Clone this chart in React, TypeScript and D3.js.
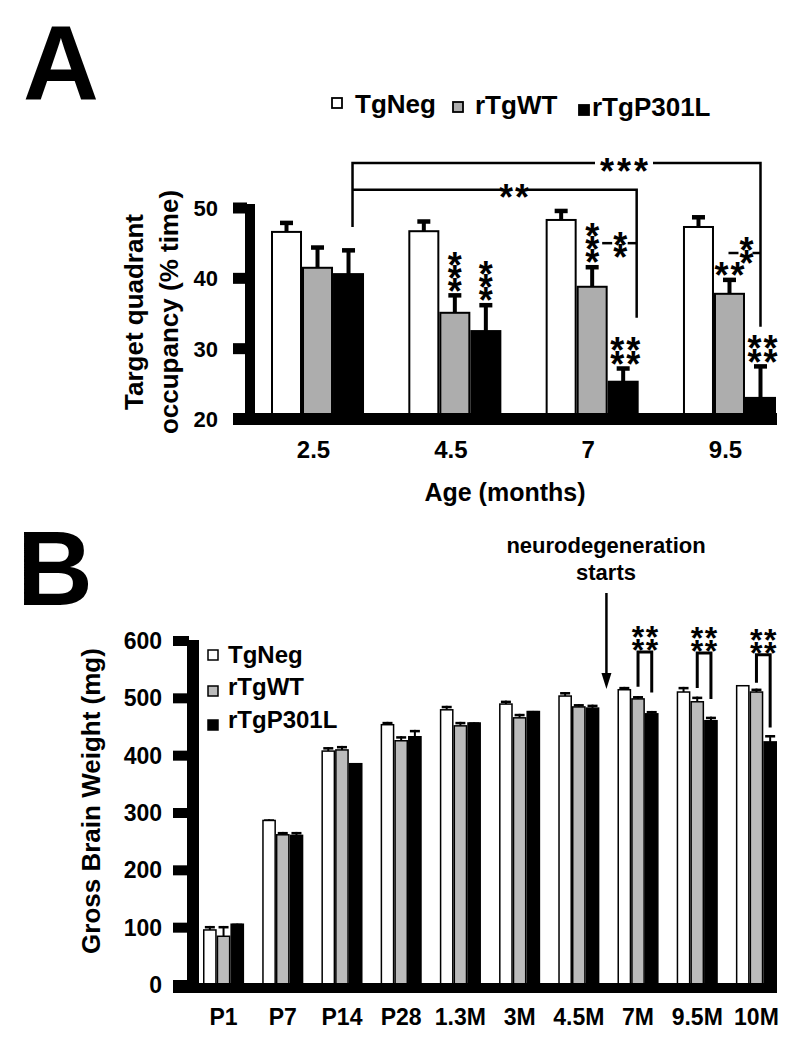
import React from "react";
import * as d3 from "d3";

// ---------- data ----------
const seriesNames = ["TgNeg", "rTgWT", "rTgP301L"];
const seriesFillsA = ["#ffffff", "#adadad", "#000000"];
const seriesFillsB = ["#ffffff", "#bbbbbb", "#000000"];

// Panel A: target quadrant occupancy (% time)
const agesA = ["2.5", "4.5", "7", "9.5"];
const occTgNeg = [46.6, 46.7, 48.3, 47.3];
const occTgNegErr = [1.6, 1.7, 1.6, 1.7];
const occWT = [41.5, 35.1, 38.8, 37.8];
const occWTErr = [3.2, 2.8, 3.1, 2.3];
const occP301L = [40.6, 32.5, 25.3, 23.0];
const occP301LErr = [3.7, 4.0, 2.2, 4.8];
const yTicksA = [20, 30, 40, 50];

// Panel B: gross brain weight (mg)
const agesB = ["P1", "P7", "P14", "P28", "1.3M", "3M", "4.5M", "7M", "9.5M", "10M"];
const bwTgNeg = [96, 287, 408, 454, 480, 490, 504, 515, 511, 522];
const bwTgNegErr = [7, 2, 7, 5, 7, 6, 7, 5, 9, 1];
const bwWT = [85, 262, 410, 426, 452, 466, 485, 499, 494, 511];
const bwWTErr = [18, 5, 7, 8, 7, 7, 5, 5, 9, 6];
const bwP301L = [106, 261, 386, 433, 457, 477, 483, 473, 461, 424];
const bwP301LErr = [1, 6, 1, 12, 1, 1, 6, 5, 7, 12];
const yTicksB = [0, 100, 200, 300, 400, 500, 600];

// significance stars above single bars in A: [age, series index, rows, cols]
const starsA: [string, number, number, number][] = [
  ["4.5", 1, 3, 1],
  ["4.5", 2, 3, 1],
  ["7", 1, 3, 1],
  ["7", 2, 2, 2],
  ["9.5", 1, 1, 2],
  ["9.5", 2, 2, 2],
];
// brackets in B: [age, top value, left leg end value, right leg end value]
const bracketsB: [string, number, number, number][] = [
  ["7M", 581, 520, 510],
  ["9.5M", 579, 518, 499],
  ["10M", 576, 527, 449],
];

const FONT = "'Liberation Sans', Arial, Helvetica, sans-serif";

// a block of asterisks as ONE text element; (cx, cy) = centre of the bottom row
function Stars({ cx, cy, rows, cols, dx = 16, dy = 13, fs = 36 }: { cx: number; cy: number; rows: number; cols: number; dx?: number; dy?: number; fs?: number }) {
  const adv = 0.389 * fs;
  const ls = dx - adv;
  const width = cols * adv + (cols - 1) * ls;
  const x0 = cx - width / 2;
  const rowsArr = d3.range(rows);
  return (
    <text fontSize={fs} fontWeight="bold" fontFamily={FONT} letterSpacing={ls}>
      {rowsArr.map((r) => (
        <tspan key={r} x={x0} y={cy - (rows - 1 - r) * dy + fs * 0.57}>
          {"*".repeat(cols)}
        </tspan>
      ))}
    </text>
  );
}

export default function App() {
  // ---------- Panel A scales ----------
  const yA = d3.scaleLinear().domain([20, 50]).range([419, 208]);
  const xA = d3.scaleBand().domain(agesA).range([271, 776]).paddingInner(0.3226).paddingOuter(0);
  const sA = d3.scaleBand().domain(seriesNames).range([0, xA.bandwidth()]).padding(0);
  const valsA = [occTgNeg, occWT, occP301L];
  const errsA = [occTgNegErr, occWTErr, occP301LErr];
  const cA = (age: string, si: number) => (xA(age) as number) + (sA(seriesNames[si]) as number) + sA.bandwidth() / 2;

  // ---------- Panel B scales ----------
  const yB = d3.scaleLinear().domain([0, 600]).range([985, 641]);
  const xB = d3.scaleBand().domain(agesB).range([203, 777]).paddingInner(0.306).paddingOuter(0);
  const sB = d3.scaleBand().domain(seriesNames).range([0, xB.bandwidth()]).padding(0);
  const valsB = [bwTgNeg, bwWT, bwP301L];
  const errsB = [bwTgNegErr, bwWTErr, bwP301LErr];
  const cB = (age: string, si: number) => (xB(age) as number) + (sB(seriesNames[si]) as number) + sB.bandwidth() / 2;

  // A brackets geometry
  const leftLegX = cA("2.5", 2) + 4;
  const right95 = cA("9.5", 2);
  const right7 = cA("7", 2) + 13.5;
  const yTop3 = yA(56.4);
  const yTop2 = yA(52.6);

  const arrowX = ((xB("4.5M") as number) + xB.bandwidth() + (xB("7M") as number)) / 2 - 2;

  return (
    <svg width={800} height={1050} style={{ position: "absolute", left: 0, top: 0, background: "#fff" }} fontFamily={FONT}>
      <rect width={800} height={1050} fill="#fff" />
      {/* ============ Panel A ============ */}
      <text x={23} y={100} fontSize={105} fontWeight="bold">A</text>

      {/* legend A */}
      {[
        { sq: [332, 98], tx: [355, 113] },
        { sq: [453, 102], tx: [475, 114] },
        { sq: [579, 105], tx: [592, 116] },
      ].map((l, i) => (
        <g key={i}>
          <rect x={l.sq[0]} y={l.sq[1]} width={10} height={10} fill={seriesFillsA[i]} stroke="#000" strokeWidth={1.8} />
          <text x={l.tx[0]} y={l.tx[1]} fontSize={26} fontWeight="bold">{seriesNames[i]}</text>
        </g>
      ))}

      {/* bars A */}
      {agesA.map((age, gi) =>
        seriesNames.map((s, si) => {
          const v = valsA[si][gi];
          const e = errsA[si][gi];
          const x = (xA(age) as number) + (sA(s) as number);
          const w = sA.bandwidth();
          const cx = x + w / 2;
          return (
            <g key={age + s}>
              <line x1={cx} x2={cx} y1={yA(v)} y2={yA(v + e) + 2} stroke="#000" strokeWidth={4} />
              <rect x={cx - 6.5} y={yA(v + e)} width={13} height={4.5} fill="#000" />
              <rect x={x + 1} y={yA(v)} width={w - 2} height={yA(20) - yA(v)} fill={seriesFillsA[si]} stroke="#000" strokeWidth={2} />
            </g>
          );
        })
      )}

      {/* axes A */}
      <rect x={245} y={204} width={10} height={221} fill="#000" />
      <rect x={233} y={413} width={544} height={12} fill="#000" />
      {yTicksA.map((t) => (
        <g key={t}>
          <rect x={233} y={yA(t) - 5.5} width={14} height={11} fill="#000" />
          <text x={218} y={yA(t) + 8} fontSize={22} fontWeight="bold" textAnchor="end">{t}</text>
        </g>
      ))}
      {agesA.map((age) => (
        <text key={age} x={(xA(age) as number) + xA.bandwidth() / 2 - 4} y={458} fontSize={24} fontWeight="bold" textAnchor="middle">
          {age}
        </text>
      ))}
      <text x={505} y={501} fontSize={25} fontWeight="bold" textAnchor="middle">Age (months)</text>
      <text transform="translate(143,312) rotate(-90)" fontSize={26} fontWeight="bold" textAnchor="middle">Target quadrant</text>
      <text transform="translate(178,312) rotate(-90)" fontSize={26} fontWeight="bold" textAnchor="middle">occupancy (% time)</text>

      {/* brackets A */}
      <g stroke="#000" strokeWidth={2.5} fill="none">
        <path d={`M${leftLegX},${yA(47.3)} V${yTop3} H${595}`} />
        <path d={`M${653},${yTop3} H${right95} V${yA(33.1)}`} />
        <path d={`M${leftLegX},${yTop2} H${500}`} />
        <path d={`M${528},${yTop2} H${right7} V${yA(34.4)}`} />
        {/* small brackets */}
        <line x1={cA("7", 1) + 10} x2={cA("7", 1) + 20} y1={yA(45)} y2={yA(45)} />
        <line x1={right7 - 9} x2={right7} y1={yA(45)} y2={yA(45)} />
        <line x1={cA("9.5", 1) - 1} x2={cA("9.5", 1) + 9} y1={yA(43.6)} y2={yA(43.6)} />
        <line x1={right95 - 8} x2={right95} y1={yA(43.6)} y2={yA(43.6)} />
      </g>
      <Stars cx={624} cy={yTop3} rows={1} cols={3} dx={17} />
      <Stars cx={514} cy={yTop2} rows={1} cols={2} dx={16} />
      <Stars cx={cA("7", 1) + 28} cy={yA(45) + 6} rows={2} cols={1} dy={12} />
      <Stars cx={cA("9.5", 1) + 17} cy={yA(43.6) + 2} rows={2} cols={1} dy={13} />

      {starsA.map(([age, si, rows, cols], k) => {
        const gi = agesA.indexOf(age);
        const cx = cA(age, si) + (rows === 2 && cols === 2 ? 2 : 0);
        const base = yA(valsA[si][gi] + errsA[si][gi]) - 10;
        return <Stars key={k} cx={cx} cy={base} rows={rows} cols={cols} dx={16} dy={rows === 3 ? 13 : 14} />;
      })}

      {/* ============ Panel B ============ */}
      <text x={17} y={605} fontSize={105} fontWeight="bold">B</text>

      {/* bars B */}
      {agesB.map((age, gi) =>
        seriesNames.map((s, si) => {
          const v = valsB[si][gi];
          const e = errsB[si][gi];
          const x = (xB(age) as number) + (sB(s) as number);
          const w = sB.bandwidth();
          const cx = x + w / 2;
          return (
            <g key={age + s}>
              <line x1={cx} x2={cx} y1={yB(v)} y2={yB(v + e)} stroke="#000" strokeWidth={2} />
              <rect x={cx - 5} y={yB(v + e)} width={10} height={2.5} fill="#000" />
              <rect x={x + 0.75} y={yB(v)} width={w - 1.5} height={yB(0) - yB(v)} fill={seriesFillsB[si]} stroke="#000" strokeWidth={1.5} />
            </g>
          );
        })
      )}

      {/* axes B */}
      <rect x={187} y={640} width={12} height={353} fill="#000" />
      <rect x={173} y={983} width={604} height={10} fill="#000" />
      {yTicksB.map((t) => (
        <g key={t}>
          <rect x={173} y={yB(t) - 5} width={16} height={10} fill="#000" />
          <text x={162} y={yB(t) + 8} fontSize={23} fontWeight="bold" textAnchor="end">{t}</text>
        </g>
      ))}
      {agesB.map((age) => (
        <text key={age} x={(xB(age) as number) + xB.bandwidth() / 2} y={1025} fontSize={23} fontWeight="bold" textAnchor="middle">
          {age}
        </text>
      ))}
      <text transform="translate(100,801) rotate(-90)" fontSize={26} fontWeight="bold" textAnchor="middle">Gross Brain Weight (mg)</text>

      {/* legend B */}
      {[
        { sq: [208, 650], tx: [228, 663] },
        { sq: [208, 686], tx: [228, 695] },
        { sq: [208, 720], tx: [228, 728] },
      ].map((l, i) => (
        <g key={i}>
          <rect x={l.sq[0]} y={l.sq[1]} width={10} height={10} fill={seriesFillsB[i]} stroke="#000" strokeWidth={1.5} />
          <text x={l.tx[0]} y={l.tx[1]} fontSize={24} fontWeight="bold">{seriesNames[i]}</text>
        </g>
      ))}

      {/* neurodegeneration arrow */}
      <text x={606} y={553} fontSize={22} fontWeight="bold" textAnchor="middle">neurodegeneration</text>
      <text x={606} y={580} fontSize={22} fontWeight="bold" textAnchor="middle">starts</text>
      <line x1={arrowX} x2={arrowX} y1={593} y2={676} stroke="#000" strokeWidth={2.5} />
      <path d={`M${arrowX - 5},${673} L${arrowX + 5},${673} L${arrowX},${689} Z`} fill="#000" />

      {/* brackets B */}
      {bracketsB.map(([age, top, l, r]) => {
        const x1 = cB(age, 1);
        const x2 = cB(age, 2);
        const mid = (x1 + x2) / 2;
        return (
          <g key={age}>
            <path d={`M${x1},${yB(l)} V${yB(top)} H${x2} V${yB(r)}`} stroke="#000" strokeWidth={3} fill="none" />
            <Stars cx={mid} cy={yB(top) - 9} rows={2} cols={2} dx={14} dy={13} fs={32} />
          </g>
        );
      })}
    </svg>
  );
}
